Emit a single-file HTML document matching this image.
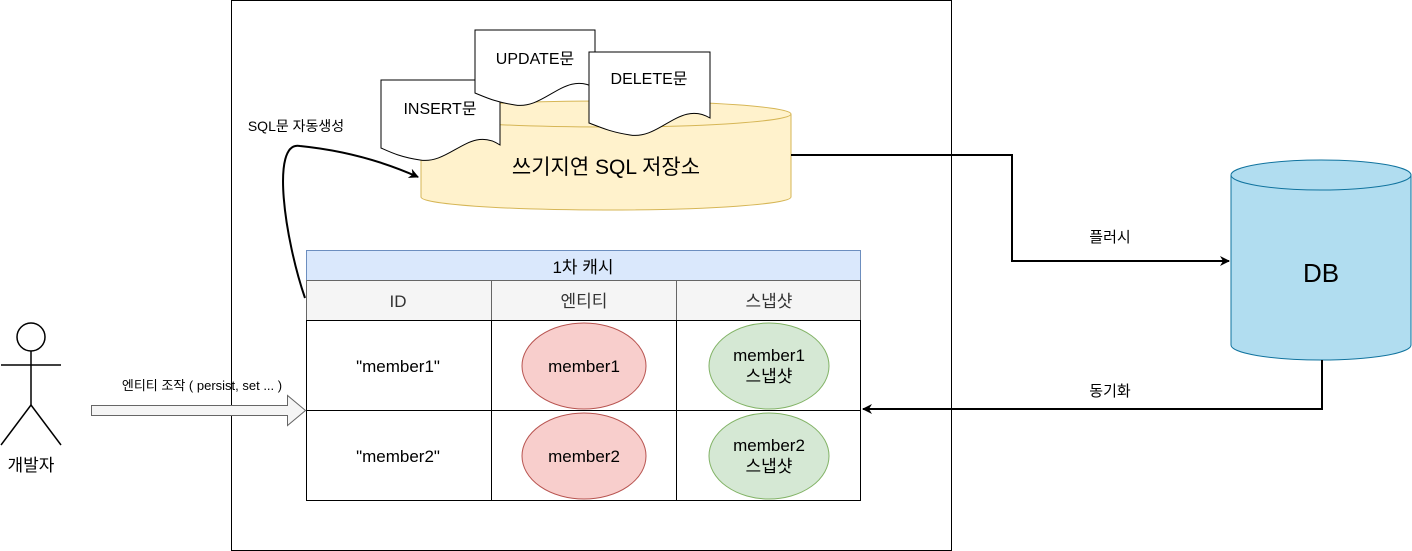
<!DOCTYPE html>
<html><head><meta charset="utf-8"><style>
html,body{margin:0;padding:0;background:#fff}
svg{display:block}
text{font-family:"Liberation Sans","Noto Sans CJK KR",sans-serif;fill:#000}
</style></head><body>
<svg width="1412" height="551" viewBox="0 0 1412 551" xmlns="http://www.w3.org/2000/svg">
<defs>
<marker id="ah" markerWidth="10" markerHeight="10" refX="9" refY="5" orient="auto" markerUnits="userSpaceOnUse">
<path d="M0,0 L10,5 L0,10 L3,5 Z" fill="#000"/>
</marker>
</defs>
<rect x="231.5" y="0.5" width="720" height="550" fill="#fff" stroke="#000"/>

<!-- yellow cylinder -->
<path d="M421,114 L421,197 A185,13 0 0 0 791,197 L791,114" fill="#fff2cc" stroke="#d6b656"/>
<ellipse cx="606" cy="114" rx="185" ry="13" fill="#fff2cc" stroke="#d6b656"/>
<text x="606" y="174" font-size="21" text-anchor="middle">쓰기지연 SQL 저장소</text>

<!-- docs -->
<path d="M381,80 L500,80 L500,145 C470,125 450,165 420,160 C400,157 390,152 381,148 Z" fill="#fff" stroke="#000"/>
<text x="440" y="114" font-size="16" text-anchor="middle">INSERT문</text>
<path d="M475,30 L595,30 L595,88 C565,70 545,110 515,105 C495,102 485,97 475,93 Z" fill="#fff" stroke="#000"/>
<text x="535" y="64" font-size="16" text-anchor="middle">UPDATE문</text>
<path d="M589,52 L710,52 L710,118 C680,100 660,140 630,135 C610,132 600,127 589,123 Z" fill="#fff" stroke="#000"/>
<text x="649" y="84" font-size="16" text-anchor="middle">DELETE문</text>

<!-- curved arrow -->
<text x="296" y="131" font-size="14" text-anchor="middle">SQL문 자동생성</text>
<path d="M305,298 C285,240 270,140 300,146 C340,150 380,160 418,177" fill="none" stroke="#000" stroke-width="2" marker-end="url(#ah)"/>

<!-- table -->
<rect x="306.5" y="250.5" width="554" height="30" fill="#dae8fc" stroke="#6c8ebf"/>
<text x="583" y="273" font-size="17" text-anchor="middle">1차 캐시</text>
<rect x="306.5" y="280.5" width="554" height="40" fill="#f5f5f5" stroke="#666"/>
<line x1="491.5" y1="280" x2="491.5" y2="320" stroke="#666"/>
<line x1="676.5" y1="280" x2="676.5" y2="320" stroke="#666"/>
<text x="398" y="307" font-size="17" text-anchor="middle" style="fill:#333">ID</text>
<text x="584" y="307" font-size="17" text-anchor="middle" style="fill:#333">엔티티</text>
<text x="769" y="307" font-size="17" text-anchor="middle" style="fill:#333">스냅샷</text>
<rect x="306.5" y="320.5" width="554" height="180" fill="#fff" stroke="#000"/>
<line x1="306" y1="410.5" x2="861" y2="410.5" stroke="#000"/>
<line x1="491.5" y1="320" x2="491.5" y2="500" stroke="#000"/>
<line x1="676.5" y1="320" x2="676.5" y2="500" stroke="#000"/>
<text x="398" y="372" font-size="17" text-anchor="middle">"member1"</text>
<text x="398" y="462" font-size="17" text-anchor="middle">"member2"</text>
<ellipse cx="584" cy="366" rx="62" ry="43" fill="#f8cecc" stroke="#b85450"/>
<ellipse cx="584" cy="456" rx="62" ry="43" fill="#f8cecc" stroke="#b85450"/>
<text x="584" y="372" font-size="17" text-anchor="middle">member1</text>
<text x="584" y="462" font-size="17" text-anchor="middle">member2</text>
<ellipse cx="769" cy="366" rx="60" ry="43" fill="#d5e8d4" stroke="#82b366"/>
<ellipse cx="769" cy="456" rx="60" ry="43" fill="#d5e8d4" stroke="#82b366"/>
<text x="769" y="361" font-size="17" text-anchor="middle">member1</text>
<text x="769" y="382" font-size="17" text-anchor="middle">스냅샷</text>
<text x="769" y="451" font-size="17" text-anchor="middle">member2</text>
<text x="769" y="472" font-size="17" text-anchor="middle">스냅샷</text>

<!-- DB -->
<path d="M1231,175 L1231,345 A90,15 0 0 0 1411,345 L1411,175" fill="#b1ddf0" stroke="#10739e"/>
<ellipse cx="1321" cy="175" rx="90" ry="15" fill="#b1ddf0" stroke="#10739e"/>
<text x="1321" y="282" font-size="26" text-anchor="middle">DB</text>

<!-- flush -->
<path d="M791,155 L1012,155 L1012,261 L1229,261" fill="none" stroke="#000" stroke-width="2" marker-end="url(#ah)"/>
<text x="1110" y="242" font-size="15" text-anchor="middle">플러시</text>
<!-- sync -->
<path d="M1322,360 L1322,409 L863,409" fill="none" stroke="#000" stroke-width="2" marker-end="url(#ah)"/>
<text x="1110" y="396" font-size="15" text-anchor="middle">동기화</text>

<!-- actor -->
<circle cx="31" cy="337" r="14" fill="#fff" stroke="#000" stroke-width="1.5"/>
<line x1="31" y1="351" x2="31" y2="405" stroke="#000" stroke-width="1.5"/>
<line x1="1" y1="365" x2="61" y2="365" stroke="#000" stroke-width="1.5"/>
<line x1="31" y1="405" x2="1" y2="445" stroke="#000" stroke-width="1.5"/>
<line x1="31" y1="405" x2="61" y2="445" stroke="#000" stroke-width="1.5"/>
<text x="31" y="471" font-size="17" text-anchor="middle">개발자</text>

<!-- block arrow -->
<path d="M91.5,405.5 L287.5,405.5 L287.5,395.5 L305.5,410.5 L287.5,425.5 L287.5,415.5 L91.5,415.5 Z" fill="#f5f5f5" stroke="#666"/>
<text x="202" y="390" font-size="13" text-anchor="middle">엔티티 조작 ( persist, set ... )</text>
</svg>
</body></html>
